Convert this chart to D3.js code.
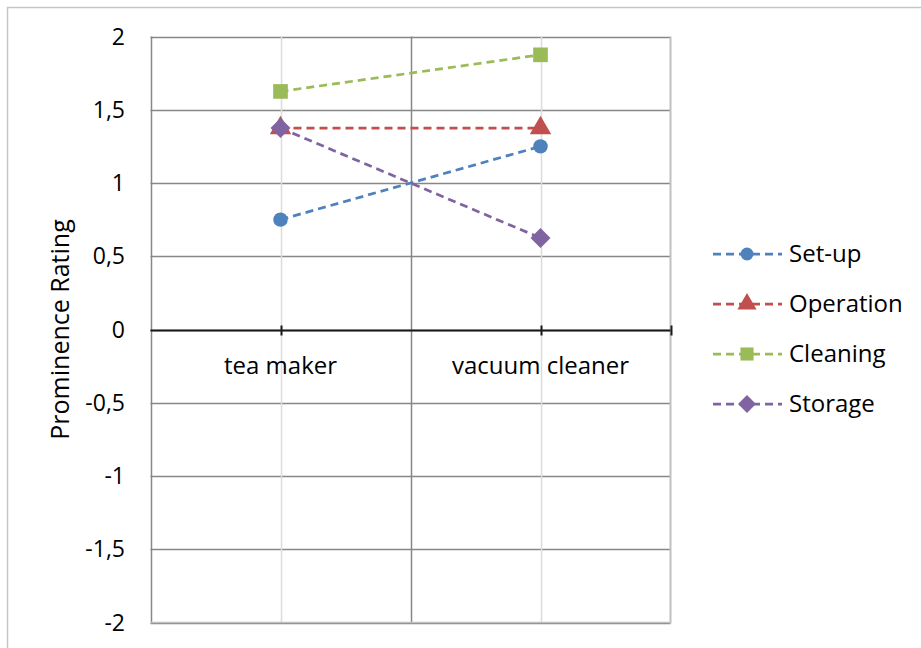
<!DOCTYPE html>
<html>
<head>
<meta charset="utf-8">
<script src="https://cdn.jsdelivr.net/npm/d3@7"></script>
<style>
  html, body { margin: 0; padding: 0; background: #fff; }
  svg { display: block; font-family: "Open Sans", "Noto Sans", sans-serif; }
</style>
</head>
<body>
<svg id="chart" width="921" height="648"></svg>
<script>
// Product categories on the x axis
const categories = ["tea maker", "vacuum cleaner"];

// Prominence ratings per aspect, one value per category
const setUp     = [0.75, 1.25];
const operation = [1.375, 1.375];
const cleaning  = [1.625, 1.875];
const storage   = [1.375, 0.625];

const seriesNames = ["Set-up", "Operation", "Cleaning", "Storage"];
const seriesValues = [setUp, operation, cleaning, storage];
const seriesColors = ["#4f81bd", "#c0504d", "#9bbb59", "#8064a2"];
const seriesSymbols = [d3.symbolCircle, d3.symbolTriangle, d3.symbolSquare, d3.symbolSquare];
const symbolSizes = [165, 200, 215, 200];
const symbolRotations = [0, 0, 0, 45];

const yTicks = [-2, -1.5, -1, -0.5, 0, 0.5, 1, 1.5, 2];
const yTitle = "Prominence Rating";

const svg = d3.select("#chart");
const plotLeft = 150.5, plotRight = 670.5, plotTop = 36.5, plotBottom = 622.5;

// chart frame
svg.append("rect")
  .attr("x", 7.5).attr("y", 7.5).attr("width", 940).attr("height", 660)
  .attr("fill", "#fff").attr("stroke", "#c6c6c6").attr("stroke-width", 1.5);

const y = d3.scaleLinear().domain([-2, 2]).range([plotBottom, plotTop]);
const xBand = d3.scaleBand().domain(categories).range([plotLeft, plotRight]).paddingInner(0).paddingOuter(0);
const xc = c => xBand(c) + xBand.bandwidth() / 2;

const fmt = v => String(v).replace(".", ",");

// horizontal gridlines
svg.append("g").selectAll("line").data(yTicks).join("line")
  .attr("x1", plotLeft).attr("x2", plotRight)
  .attr("y1", d => Math.round(y(d)) + 0.5).attr("y2", d => Math.round(y(d)) + 0.5)
  .attr("stroke", "#878787").attr("stroke-width", 1.5);

// light vertical lines through the category centres
svg.append("g").selectAll("line").data(categories).join("line")
  .attr("x1", d => Math.round(xc(d)) + 0.5).attr("x2", d => Math.round(xc(d)) + 0.5)
  .attr("y1", plotTop).attr("y2", plotBottom)
  .attr("stroke", "#dcdcdc").attr("stroke-width", 1.5);

// darker vertical lines at category boundaries
const boundaries = [plotLeft, xBand(categories[1])];
svg.append("g").selectAll("line").data(boundaries).join("line")
  .attr("x1", d => Math.round(d) + 0.5).attr("x2", d => Math.round(d) + 0.5)
  .attr("y1", plotTop).attr("y2", plotBottom)
  .attr("stroke", "#878787").attr("stroke-width", 1.5);

// right and bottom edge of the plot area
svg.append("line").attr("x1", plotRight).attr("x2", plotRight).attr("y1", plotTop).attr("y2", plotBottom + 1)
  .attr("stroke", "#c0c0c0").attr("stroke-width", 2);
svg.append("line").attr("x1", plotLeft).attr("x2", plotRight).attr("y1", plotBottom).attr("y2", plotBottom)
  .attr("stroke", "#c0c0c0").attr("stroke-width", 1.5);

// y tick labels
svg.append("g").selectAll("text").data(yTicks).join("text")
  .attr("x", 125).attr("y", d => y(d)).attr("dy", "0.35em")
  .attr("text-anchor", "end").attr("font-size", 23).attr("fill", "#000")
  .text(d => fmt(d));

// y axis title
svg.append("text")
  .attr("transform", `translate(69,${(plotTop + plotBottom) / 2}) rotate(-90)`)
  .attr("text-anchor", "middle").attr("font-size", 25).attr("fill", "#000")
  .text(yTitle);

// x axis at zero
const y0 = Math.round(y(0)) + 0.5;
svg.append("line").attr("x1", plotLeft).attr("x2", plotRight).attr("y1", y0).attr("y2", y0)
  .attr("stroke", "#1a1a1a").attr("stroke-width", 2);
const tickXs = [xc(categories[0]), xc(categories[1]), plotRight];
svg.append("g").selectAll("line").data(tickXs).join("line")
  .attr("x1", d => Math.round(d) + 0.5).attr("x2", d => Math.round(d) + 0.5)
  .attr("y1", y0 - 5).attr("y2", y0 + 5)
  .attr("stroke", "#1a1a1a").attr("stroke-width", 2);

svg.append("g").selectAll("text").data(categories).join("text")
  .attr("x", d => xc(d)).attr("y", 374)
  .attr("text-anchor", "middle").attr("font-size", 24).attr("fill", "#000")
  .text(d => d);

// series lines and markers
const line = d3.line().x((d, i) => xc(categories[i])).y(d => y(d));
seriesValues.forEach((vals, s) => {
  svg.append("path").datum(vals)
    .attr("d", line).attr("fill", "none")
    .attr("stroke", seriesColors[s]).attr("stroke-width", 2.75)
    .attr("stroke-dasharray", "8,5");
});
seriesValues.forEach((vals, s) => {
  svg.append("g").selectAll("path").data(vals).join("path")
    .attr("transform", (d, i) => `translate(${xc(categories[i])},${y(d)}) rotate(${symbolRotations[s]})`)
    .attr("d", d3.symbol(seriesSymbols[s], symbolSizes[s]))
    .attr("fill", seriesColors[s]);
});

// legend
const legend = svg.append("g");
seriesNames.forEach((name, s) => {
  const ly = 254 + s * 50;
  legend.append("line").attr("x1", 713).attr("x2", 782).attr("y1", ly).attr("y2", ly)
    .attr("stroke", seriesColors[s]).attr("stroke-width", 2.75).attr("stroke-dasharray", "8,5");
  legend.append("path").attr("transform", `translate(747,${ly}) rotate(${symbolRotations[s]})`)
    .attr("d", d3.symbol(seriesSymbols[s], symbolSizes[s] * 0.8))
    .attr("fill", seriesColors[s]);
  legend.append("text").attr("x", 789).attr("y", ly).attr("dy", "0.35em")
    .attr("font-size", 24).attr("fill", "#000").text(name);
});
</script>
</body>
</html>
